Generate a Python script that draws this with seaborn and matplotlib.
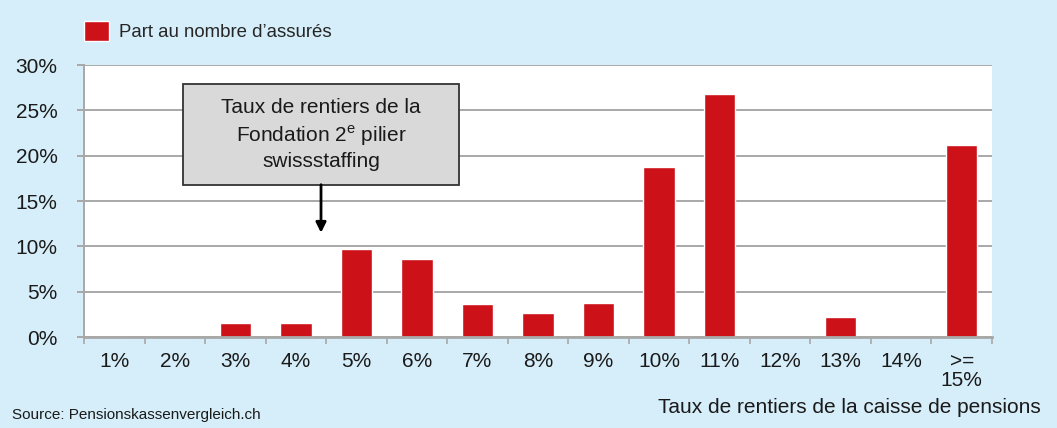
import matplotlib
matplotlib.use("Agg")
import matplotlib.pyplot as plt
from matplotlib.patches import Rectangle
import seaborn as sns
import pandas as pd

# Data
categories = ["1%", "2%", "3%", "4%", "5%", "6%", "7%", "8%", "9%",
              "10%", "11%", "12%", "13%", "14%", ">=\n15%"]
share_insured = [0.0, 0.0, 1.5, 1.5, 9.7, 8.6, 3.6, 2.7, 3.7,
                 18.7, 26.8, 0.0, 2.2, 0.0, 21.2]
y_ticks = [0, 5, 10, 15, 20, 25, 30]

BG = "#d6eef9"
RED = "#cc1118"
GRID = "#a8a8a8"

sns.set_theme(style="white")
plt.rcParams["font.family"] = ["Liberation Sans", "DejaVu Sans"]
plt.rcParams["mathtext.fontset"] = "custom"
plt.rcParams["mathtext.rm"] = "Liberation Sans"

df = pd.DataFrame({"taux": categories, "part": share_insured})

fig = plt.figure(figsize=(10.57, 4.28), dpi=100, facecolor=BG)
ax = fig.add_axes([0.0795, 0.2126, 0.859, 0.6355])
ax.set_facecolor("white")

sns.barplot(data=df, x="taux", y="part", color=RED, width=0.52,
            saturation=1, label="Part au nombre d\u2019assurés", ax=ax)

ax.set_ylim(0, 30)
ax.set_xlim(-0.5, len(categories) - 0.5)
ax.set_yticks(y_ticks)
ax.set_yticklabels([f"{v}%" for v in y_ticks], fontsize=15, color="#1a1a1a")
ax.yaxis.grid(True, color=GRID, linewidth=1.4)
ax.set_axisbelow(True)

# x ticks: labels at centres, tick marks at category borders
ax.set_xticks(range(len(categories)))
ax.set_xticklabels(categories, fontsize=15, color="#1a1a1a", linespacing=1.0)
ax.set_xticks([i - 0.5 for i in range(len(categories) + 1)], minor=True)
ax.tick_params(axis="x", which="major", length=0, pad=11)
ax.tick_params(axis="x", which="minor", length=5, width=1.2, color=GRID,
               direction="out", bottom=True)
ax.tick_params(axis="y", length=5, width=1.4, color=GRID, direction="out",
               left=True, pad=14)

for side in ["top", "right"]:
    ax.spines[side].set_visible(False)
ax.spines["left"].set_color(GRID)
ax.spines["left"].set_linewidth(1.4)
ax.spines["bottom"].set_color(GRID)
ax.spines["bottom"].set_linewidth(2.0)

ax.set_xlabel("")
ax.set_ylabel("")

# annotation box with arrow
box_x0, box_x1 = 1.14, 5.69
box_y0, box_y1 = 16.8, 27.9
ax.add_patch(Rectangle((box_x0, box_y0), box_x1 - box_x0, box_y1 - box_y0,
                       fc="#d9d9d9", ec="#333333", lw=1.3, zorder=4))
box_cx = (box_x0 + box_x1) / 2
ax.text(box_cx, 22.3,
        "Taux de rentiers de la\nFondation 2$^{\\mathrm{e}}$ pilier\nswissstaffing",
        ha="center", va="center", fontsize=15, color="#1a1a1a",
        linespacing=1.3, zorder=5)
ax.annotate("", xy=(box_cx, 11.5), xytext=(box_cx, box_y0),
            arrowprops=dict(arrowstyle="-|>", color="black", lw=2,
                            mutation_scale=15, shrinkA=0, shrinkB=0),
            zorder=5)

leg = fig.legend(loc="upper left", bbox_to_anchor=(0.064, 0.99), frameon=False,
                 fontsize=13.4, handlelength=1.3, handleheight=1.3,
                 handletextpad=0.55)
if ax.get_legend() is not None:
    ax.get_legend().remove()

fig.text(0.985, 0.025, "Taux de rentiers de la caisse de pensions",
         ha="right", va="bottom", fontsize=15, color="#1a1a1a")
fig.text(0.011, 0.015, "Source: Pensionskassenvergleich.ch",
         ha="left", va="bottom", fontsize=11, color="#1a1a1a")

fig.savefig("out.png", dpi=100, facecolor=BG)
